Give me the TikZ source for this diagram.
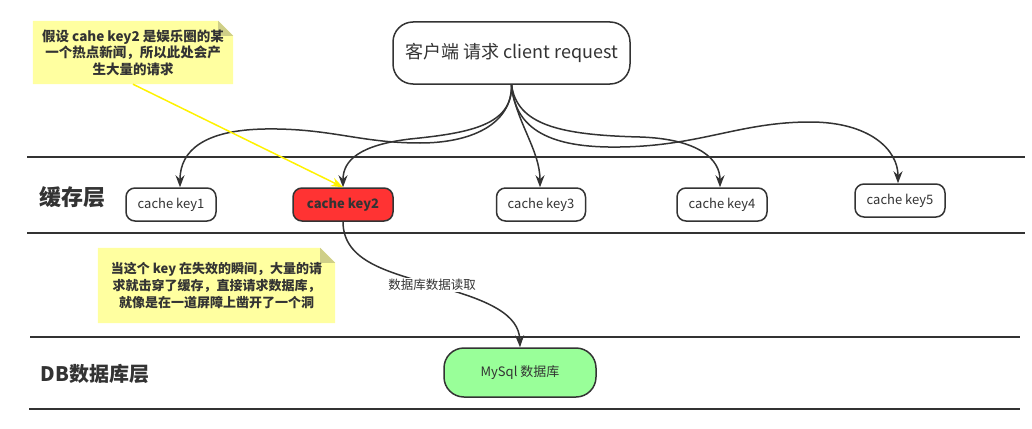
\documentclass[tikz,border=0pt]{standalone}
\usepackage{fontspec}
\setmainfont{Noto Sans CJK SC}
\usetikzlibrary{arrows.meta}
\definecolor{ink}{HTML}{333333}
\definecolor{notefill}{HTML}{FFFFA0}
\definecolor{notefold}{HTML}{CFCF88}
\definecolor{keyred}{HTML}{FF3333}
\definecolor{dbgreen}{HTML}{99FF99}
\tikzset{
  lane/.style={draw=ink, line width=2pt},
  keybox/.style={draw=ink, line width=1.5pt, rounded corners=9pt, fill=white,
    minimum height=33pt, text=ink, font=\fontsize{13}{15}\selectfont, inner sep=0pt},
  bigbox/.style={draw=ink, line width=1.5pt, rounded corners=20pt, fill=white,
    text=ink, inner sep=0pt},
  conn/.style={draw=ink, line width=1.5pt, -{Stealth[length=12pt,width=9pt]}},
  notetext/.style={text=ink, align=center, inner sep=0pt, font=\bfseries},
  layer/.style={text=ink, font=\bfseries, inner sep=0pt},
}
\begin{document}
\begin{tikzpicture}[x=1pt,y=-1pt]
\useasboundingbox (0,0) rectangle (1032,428);
% lanes
\draw[lane] (27,157) -- (1025,157);
\draw[lane] (27,233) -- (1025,233);
\draw[lane] (30,337) -- (1020,337);
\draw[lane] (29,409) -- (1020,409);
% layer labels
\node[layer, font=\fontsize{22}{24}\selectfont\bfseries] (l1) at (72,197) {缓存层};
\node[layer, font=\fontsize{20}{22}\selectfont\bfseries] (l2) at (95,374) {DB数据库层};
% client
\node[bigbox, minimum width=237pt, minimum height=62pt, font=\fontsize{18}{21}\selectfont] (c) at (511.5,53) {客户端 请求 client request};
% keys
\node[keybox, minimum width=90pt] (k1) at (171,204.5) {cache key1};
\node[keybox, minimum width=100pt, fill=keyred, font=\fontsize{13}{15}\selectfont\bfseries] (k2) at (343,204.5) {cache key2};
\node[keybox, minimum width=89pt] (k3) at (541,204.5) {cache key3};
\node[keybox, minimum width=90pt] (k4) at (722,204.5) {cache key4};
\node[keybox, minimum width=90pt] (k5) at (900,200.5) {cache key5};
% db
\node[bigbox, minimum width=152pt, minimum height=49pt, fill=dbgreen, font=\fontsize{13}{15}\selectfont] (m) at (520,372.5) {MySql 数据库};
% notes
\node[minimum width=200pt, minimum height=63pt, inner sep=0pt] (n1) at (133,52.5) {};
\fill[notefill] (n1.south west) -- (n1.north west) -- ([xshift=-15pt]n1.north east) -- ([yshift=-15pt]n1.north east) -- (n1.south east) -- cycle;
\fill[notefold] ([xshift=-15pt]n1.north east) -- ([yshift=-15pt]n1.north east) -- ([xshift=-15pt,yshift=-15pt]n1.north east) -- cycle;
\node[notetext, font=\fontsize{13.5}{16.5}\selectfont\bfseries] (t1) at (n1.center) {假设 cahe key2 是娱乐圈的某\\一个热点新闻，所以此处会产\\生大量的请求};
\node[minimum width=237pt, minimum height=75pt, inner sep=0pt] (n2) at (216.5,285.5) {};
\fill[notefill] (n2.south west) -- (n2.north west) -- ([xshift=-15pt]n2.north east) -- ([yshift=-15pt]n2.north east) -- (n2.south east) -- cycle;
\fill[notefold] ([xshift=-15pt]n2.north east) -- ([yshift=-15pt]n2.north east) -- ([xshift=-15pt,yshift=-15pt]n2.north east) -- cycle;
\node[notetext, font=\fontsize{13}{17}\selectfont\bfseries] (t2) at (n2.center) {当这个 key 在失效的瞬间，大量的请\\求就击穿了缓存，直接请求数据库，\\就像是在一道屏障上凿开了一个洞};
% connectors from client
\draw[conn] (c.south) .. controls (512,125) and (470,143) .. (420,143) .. controls (360,143) and (330,128) .. (265,129) .. controls (205,130) and (180,150) .. ([xshift=9pt]k1.north);
\draw[conn] (c.south) .. controls (513,125) and (470,133) .. (410,139) .. controls (360,145) and (343,160) .. (k2.north);
\draw[conn] (c.south) .. controls (515,120) and (540,150) .. ([xshift=-1pt]k3.north);
\draw[conn] (c.south) .. controls (517,125) and (560,135) .. (640,137) .. controls (700,139) and (720,160) .. ([xshift=-2pt]k4.north);
\draw[conn] (c.south) .. controls (515,135) and (560,148) .. (620,147) .. controls (700,146) and (740,122) .. (810,122) .. controls (870,122) and (898,150) .. ([xshift=-2pt]k5.north);
% key2 to db
\coordinate (lc) at (432,285);
\draw[conn] (k2.south) .. controls (343,262) and (390,272) .. (lc) .. controls (490,300) and (519,315) .. (m.north);
\node[fill=white, text=ink, inner sep=1pt, font=\fontsize{12.5}{14}\selectfont] (lbl) at (lc) {数据库数据读取};
% yellow arrow
\draw[draw=yellow, line width=1.5pt, -{Stealth[length=12pt,width=9pt]}] (n1.south) -- (k2.north);
\end{tikzpicture}
\end{document}
